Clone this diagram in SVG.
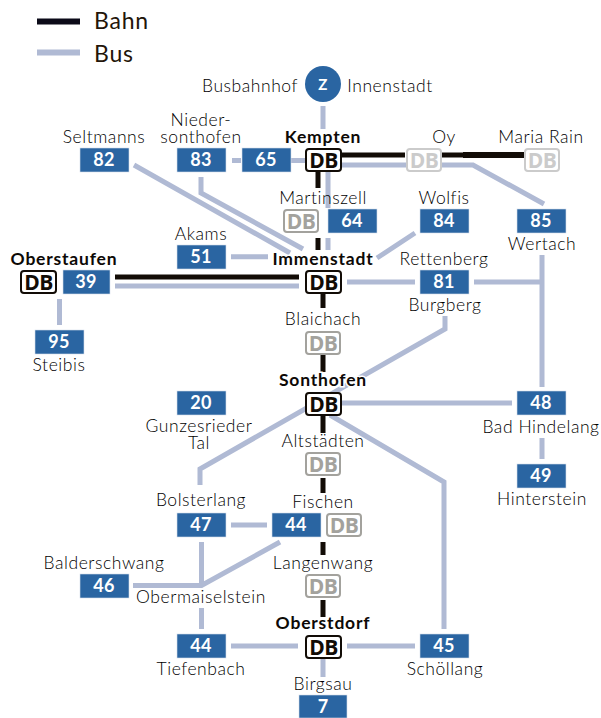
<svg xmlns="http://www.w3.org/2000/svg" width="601" height="718" viewBox="0 0 601 718">
<style>
text{font-family:Lato,"Noto Sans",sans-serif;text-anchor:middle;fill:#000;font-size:17.500px;letter-spacing:.55px;font-weight:300}
.b{font-weight:700;fill:#0d0906;font-size:17.500px;letter-spacing:.8px;stroke:#fff;stroke-width:3px;paint-order:stroke}
.l{font-size:23px;text-anchor:start;letter-spacing:.8px;font-weight:400;fill:#231509}
.n{font-weight:700;fill:#fff;font-size:18px;letter-spacing:.2px}
.box{fill:#2a65a2;stroke:#d5deec;stroke-width:.6}
.db{fill:#fff;stroke-width:2;stroke:#120c06}
.dbt{font-family:"Open Sans",sans-serif;font-weight:700;font-size:21px;fill:#120c06;letter-spacing:-.5px}
.g .db{stroke:#a3a29d}.g .dbt{fill:#a3a29d}
.h .db{stroke:#cbcbcb}.h .dbt{fill:#cbcbcb}
#connectors path{fill:none;stroke-linejoin:miter}
.bus{stroke:#b0bad4;stroke-width:5}
.rail{stroke:#120c06;stroke-width:5}
</style>
<g id="legend">
<path d="M37 21.500H80" stroke="#0b0a18" stroke-width="6"/>
<path d="M37 52.500H80" stroke="#b0bad4" stroke-width="6"/>
<text class="l" x="94" y="29">Bahn</text>
<text class="l" x="94" y="62">Bus</text>
</g>
<g id="connectors">
<path class="bus" d="M323 106V129M232 160.500H241M291 160.500H305M328 172V208M328 238V250M341 165H473L544 204M134 165L290 253M201 177V193L303 249M415 233L377 258M231 256.700H268M347 282H415M474 282H540M542 255V387M115 286H299M59.500 299V325M445 316V329L200 469V485M341 403H512M330 415L444 482V629M542 438V459M231 525H267M201.500 542V585.500M201.500 608V629M133 585.500H201.500L280 542M231 646H298M347 646H415M323 658V677"/>
<path class="rail" d="M341 155H405M442 155H463M318 172V188M318 238V250M115 277H299M323 294V308M323 355V372M323 415V433M323 478V493M323 542V555M323 600V617"/>
<path class="rail" style="stroke-width:6" d="M463 155H524"/>
</g>
<g id="node-z">
<circle cx="323" cy="84" r="18" fill="#2a65a2"/>
<text class="n" x="323" y="90" style="font-size:15px">Z</text>
<text x="250" y="92">Busbahnhof</text>
<text x="390" y="92">Innenstadt</text>
</g>
<g id="node-82"><text x="104" y="143">Seltmanns</text><rect class="box" x="80" y="148" width="49" height="24"/><text class="n" x="104" y="166">82</text></g>
<g id="node-83"><text x="201" y="126"><tspan x="201">Nieder-</tspan><tspan x="201" dy="17">sonthofen</tspan></text><rect class="box" x="177" y="148" width="49" height="24"/><text class="n" x="201" y="166">83</text></g>
<g id="node-65"><rect class="box" x="242" y="148" width="49" height="24"/><text class="n" x="266" y="166">65</text></g>
<g id="node-kempten"><text class="b" x="323" y="143">Kempten</text><rect class="db" x="306" y="149" width="35" height="22" rx="3"/><text class="dbt" x="323.500" y="168">DB</text></g>
<g id="node-oy" class="h"><text x="444" y="143">Oy</text><rect class="db" x="407" y="149" width="34" height="22" rx="3"/><text class="dbt" x="424" y="168">DB</text></g>
<g id="node-mariarain" class="h"><text x="541" y="143">Maria Rain</text><rect class="db" x="525" y="149" width="34" height="22" rx="3"/><text class="dbt" x="542" y="168">DB</text></g>
<g id="node-martinszell" class="g"><text x="323" y="204">Martinszell</text><rect class="db" x="284" y="210" width="34" height="22" rx="3"/><text class="dbt" x="301" y="229">DB</text></g>
<g id="node-64"><rect class="box" x="328" y="209" width="49" height="24"/><text class="n" x="352" y="227">64</text></g>
<g id="node-84"><text x="444" y="204">Wolfis</text><rect class="box" x="420" y="209" width="49" height="24"/><text class="n" x="444" y="227">84</text></g>
<g id="node-85"><rect class="box" x="517" y="209" width="49" height="24"/><text class="n" x="541" y="227">85</text><text x="542" y="250">Wertach</text></g>
<g id="node-51"><text x="201" y="240">Akams</text><rect class="box" x="177" y="245" width="49" height="24"/><text class="n" x="201" y="263">51</text></g>
<g id="node-immenstadt"><text class="b" x="323" y="265">Immenstadt</text><rect class="db" x="306" y="271" width="35" height="22" rx="3"/><text class="dbt" x="323.500" y="290">DB</text></g>
<g id="node-81"><text x="444" y="265">Rettenberg</text><rect class="box" x="420" y="270" width="49" height="24"/><text class="n" x="444" y="288">81</text><text x="445" y="311">Burgberg</text></g>
<g id="node-oberstaufen"><text class="b" x="64" y="265">Oberstaufen</text><rect class="db" x="21" y="271" width="35" height="22" rx="3"/><text class="dbt" x="38.500" y="290">DB</text></g>
<g id="node-39"><rect class="box" x="63" y="270" width="47" height="24"/><text class="n" x="86" y="288">39</text></g>
<g id="node-95"><rect class="box" x="35" y="330" width="49" height="24"/><text class="n" x="59" y="348">95</text><text x="59" y="371">Steibis</text></g>
<g id="node-blaichach" class="g"><text x="323" y="325">Blaichach</text><rect class="db" x="306" y="332" width="34" height="22" rx="3"/><text class="dbt" x="323" y="351">DB</text></g>
<g id="node-20"><rect class="box" x="177" y="391" width="49" height="24"/><text class="n" x="201" y="409">20</text><text x="199" y="432"><tspan x="199">Gunzesrieder</tspan><tspan x="199" dy="17">Tal</tspan></text></g>
<g id="node-sonthofen"><text class="b" x="323" y="386">Sonthofen</text><rect class="db" x="306" y="393" width="35" height="22" rx="3"/><text class="dbt" x="323.500" y="412">DB</text></g>
<g id="node-48"><rect class="box" x="517" y="391" width="49" height="24"/><text class="n" x="541" y="409">48</text><text x="541" y="433">Bad Hindelang</text></g>
<g id="node-altstaedten" class="g"><text x="323" y="447">Altstädten</text><rect class="db" x="306" y="453" width="34" height="22" rx="3"/><text class="dbt" x="323" y="472">DB</text></g>
<g id="node-49"><rect class="box" x="517" y="464" width="49" height="24"/><text class="n" x="541" y="482">49</text><text x="542" y="505">Hinterstein</text></g>
<g id="node-47"><text x="201" y="506">Bolsterlang</text><rect class="box" x="177" y="513" width="49" height="24"/><text class="n" x="201" y="531">47</text></g>
<g id="node-44a"><rect class="box" x="272" y="513" width="49" height="24"/><text class="n" x="296" y="531">44</text></g>
<g id="node-fischen" class="g"><text x="323" y="508">Fischen</text><rect class="db" x="327" y="514" width="34" height="22" rx="3"/><text class="dbt" x="344" y="533">DB</text></g>
<g id="node-langenwang" class="g"><text x="323" y="569">Langenwang</text><rect class="db" x="306" y="575" width="34" height="22" rx="3"/><text class="dbt" x="323" y="594">DB</text></g>
<g id="node-46"><text x="104" y="569">Balderschwang</text><rect class="box" x="80" y="574" width="49" height="24"/><text class="n" x="104" y="592">46</text></g>
<g id="node-obermaiselstein"><text x="201" y="603">Obermaiselstein</text></g>
<g id="node-44b"><rect class="box" x="177" y="634" width="49" height="24"/><text class="n" x="201" y="652">44</text><text x="201" y="675">Tiefenbach</text></g>
<g id="node-oberstdorf"><text class="b" x="323" y="629">Oberstdorf</text><rect class="db" x="306" y="636" width="35" height="22" rx="3"/><text class="dbt" x="323.500" y="655">DB</text></g>
<g id="node-45"><rect class="box" x="420" y="634" width="49" height="24"/><text class="n" x="444" y="652">45</text><text x="445" y="675">Schöllang</text></g>
<g id="node-7"><text x="323" y="690">Birgsau</text><rect class="box" x="299" y="695" width="48" height="23"/><text class="n" x="323" y="713">7</text></g>
</svg>
